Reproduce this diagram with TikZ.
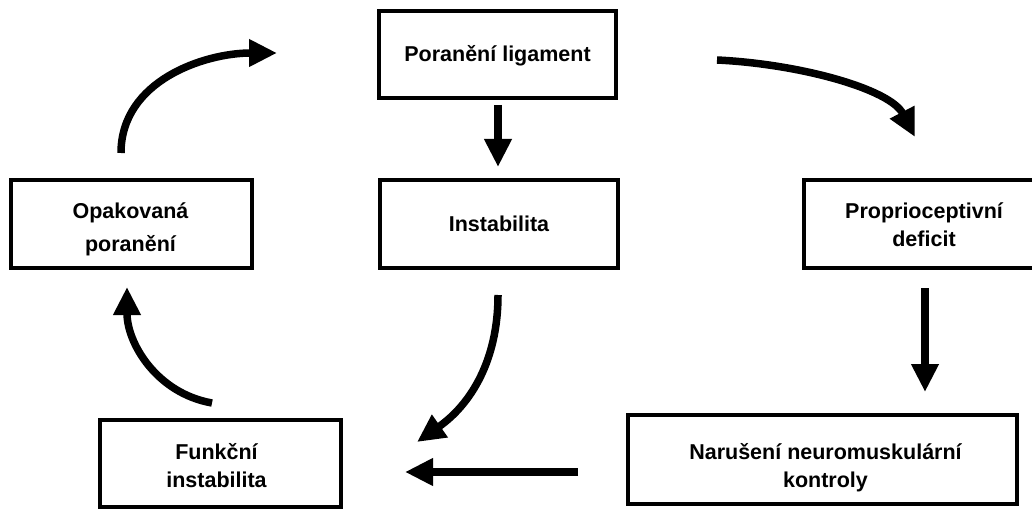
\documentclass[tikz,border=0pt]{standalone}
\usepackage{fontspec}
\setmainfont{Liberation Sans}
\usetikzlibrary{arrows.meta}
\tikzset{
  box/.style={draw, line width=3.4pt, inner sep=0pt},
  lbl/.style={inner sep=0pt, align=center, font=\bfseries\fontsize{21.5}{28}\selectfont},
  arr/.style={line width=7.5pt, -{Triangle[length=28pt,width=26pt]}}
}
\begin{document}
\begin{tikzpicture}[x=1pt,y=1pt]
\useasboundingbox (0,0) rectangle (1032,509);
% boxes
\node[box, minimum width=237pt, minimum height=87pt] (por) at (497.5,454.5) {};
\node[box, minimum width=238pt, minimum height=88pt] (ins) at (499,285) {};
\node[box, minimum width=241pt, minimum height=88pt] (opa) at (131.5,285) {};
\node[box, minimum width=240pt, minimum height=88pt] (pro) at (924,285) {};
\node[box, minimum width=389pt, minimum height=89pt] (nar) at (822.5,49.5) {};
\node[box, minimum width=241pt, minimum height=87pt] (fun) at (220.5,45.5) {};
% texts
\node[lbl] (porT) at ([yshift=-1pt]por.center) {Poranění ligament};
\node[lbl] (insT) at ([yshift=0pt]ins.center) {Instabilita};
\node[lbl, font=\bfseries\fontsize{21.5}{33}\selectfont] (opaT) at ([xshift=-1pt,yshift=-5pt]opa.center) {Opakovaná\\poranění};
\node[lbl] (proT) at ([yshift=-1pt]pro.center) {Proprioceptivní\\deficit};
\node[lbl] (narT) at ([xshift=3pt,yshift=-8pt]nar.center) {Narušení neuromuskulární\\kontroly};
\node[lbl] (funT) at ([xshift=-4pt,yshift=-2pt]fun.center) {Funkční\\instabilita};
% arrow end points
\coordinate (a1s) at (121,356);  \coordinate (a1e) at (277,456);
\coordinate (a2s) at (717,449);  \coordinate (a2e) at (915,372);
\coordinate (a3s) at (498,404);  \coordinate (a3e) at (498,342);
\coordinate (a4s) at (925,221);  \coordinate (a4e) at (925,117);
\coordinate (a5s) at (578,37);   \coordinate (a5e) at (405,37);
\coordinate (a6s) at (498,214);  \coordinate (a6e) at (417,67);
\coordinate (a7s) at (212,106);  \coordinate (a7e) at (127,222);
% arrows
\draw[arr] (a1s) to[out=90,in=180] (a1e);
\draw[arr] (a2s) .. controls +(83,-4) and +(-25,48) .. (a2e);
\draw[arr] (a3s) -- (a3e);
\draw[arr] (a4s) -- (a4e);
\draw[arr] (a5s) -- (a5e);
\draw[arr] (a6s) to[out=-90,in=35] (a6e);
\draw[arr] (a7s) to[out=170,in=-90] (a7e);
\end{tikzpicture}
\end{document}
